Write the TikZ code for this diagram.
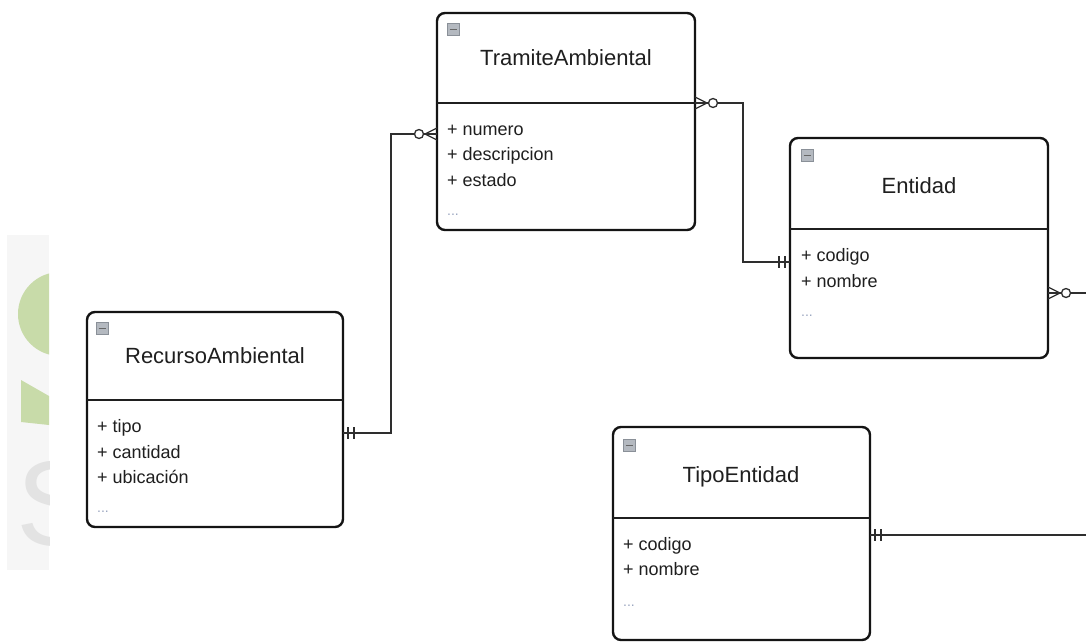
\documentclass[tikz,border=0pt]{standalone}
\usepackage{fontspec}
\setmainfont{Liberation Sans}
\usetikzlibrary{calc}
\definecolor{bgpanel}{HTML}{F6F6F6}
\definecolor{logogreen}{HTML}{C8DBA9}
\definecolor{logogray}{HTML}{E3E3E3}
\definecolor{connc}{HTML}{2E2E2E}
\definecolor{dotsc}{HTML}{9AA6C0}
\definecolor{iconfill}{HTML}{B4B9C0}
\definecolor{icondraw}{HTML}{8A9098}

\tikzset{
  entbox/.style={draw=black!92, line width=2.4pt, rounded corners=8pt, anchor=north west,
                 inner sep=0pt, outer sep=0pt, fill=white},
  divider/.style={line width=2.8pt, draw=black!88},
  etitle/.style={font=\fontsize{22}{26}\selectfont, text=black!88, anchor=base, inner sep=0pt},
  eattr/.style={font=\fontsize{18}{25.5}\selectfont, text=black!88, anchor=base west, inner sep=0pt},
  edots/.style={font=\fontsize{14}{16}\selectfont, text=dotsc, anchor=base west, inner sep=0pt},
  conn/.style={draw=connc, line width=1.3pt},
  minusicon/.style={draw=icondraw, fill=iconfill, line width=0.7pt, minimum width=12pt,
                    minimum height=12pt, inner sep=0pt, anchor=north west},
}

\newcommand{\crowzero}[2]{%
  \draw[conn] ($(#1)+(#2*12,0)$) -- ($(#1)+(0,-6)$)
              ($(#1)+(#2*12,0)$) -- (#1)
              ($(#1)+(#2*12,0)$) -- ($(#1)+(0,6)$);
  \draw[conn, fill=white] ($(#1)+(#2*18,0)$) circle[radius=4.5pt];
}
\newcommand{\mandone}[2]{%
  \draw[conn] ($(#1)+(#2*5,-6)$) -- ($(#1)+(#2*5,6)$)
              ($(#1)+(#2*11,-6)$) -- ($(#1)+(#2*11,6)$);
}
\newcommand{\minusmark}[1]{%
  \draw[line width=1.5pt, draw=black!60] ($(#1.west)+(2.5,0)$) -- ($(#1.east)+(-2.5,0)$);
}

\begin{document}
\begin{tikzpicture}[x=1pt, y=-1pt]
\useasboundingbox (0,0) rectangle (1086,642);
\fill[white] (0,0) rectangle (1086,642);

% background logo fragment
\fill[bgpanel] (7,235) rectangle (49,570);
\begin{scope}
  \clip (7,235) rectangle (49,570);
  \fill[logogreen] (60,314) circle[radius=42pt];
  \fill[logogreen] (21,380) -- (49,396) -- (49,425) -- (21,422) -- cycle;
  \node[anchor=base west, inner sep=0pt, text=logogray,
        font=\fontsize{121}{121}\selectfont] (logoS) at (16,545) {S};
\end{scope}

% ---- TramiteAmbiental
\node[entbox, minimum width=258pt, minimum height=217pt] (tram) at (437,13) {};
\draw[divider] (tram.west |- 0,103) -- (tram.east |- 0,103);
\node[minusicon] (tramicon) at (447,23) {};
\minusmark{tramicon}
\node[etitle] (tramtitle) at (566,66) {TramiteAmbiental};
\node[eattr] (tramA1) at (447,135) {+ numero};
\node[eattr] (tramA2) at (447,160) {+ descripcion};
\node[eattr] (tramA3) at (447,186) {+ estado};
\node[edots] (tramA4) at (447,215) {...};

% ---- Entidad
\node[entbox, minimum width=258pt, minimum height=220pt] (ent) at (790,138) {};
\draw[divider] (ent.west |- 0,229) -- (ent.east |- 0,229);
\node[minusicon] (enticon) at (801,149) {};
\minusmark{enticon}
\node[etitle] (enttitle) at (919,193) {Entidad};
\node[eattr] (entA1) at (801,261) {+ codigo};
\node[eattr] (entA2) at (801,287) {+ nombre};
\node[edots] (entA3) at (801,316) {...};

% ---- RecursoAmbiental
\node[entbox, minimum width=256pt, minimum height=215pt] (rec) at (87,312) {};
\draw[divider] (rec.west |- 0,400) -- (rec.east |- 0,400);
\node[minusicon] (recicon) at (96,322) {};
\minusmark{recicon}
\node[etitle] (rectitle) at (215,363) {RecursoAmbiental};
\node[eattr] (recA1) at (97,432) {+ tipo};
\node[eattr] (recA2) at (97,458) {+ cantidad};
\node[eattr] (recA3) at (97,483) {+ ubicación};
\node[edots] (recA4) at (97,512) {...};

% ---- TipoEntidad
\node[entbox, minimum width=257pt, minimum height=213pt] (tipo) at (613,427) {};
\draw[divider] (tipo.west |- 0,518) -- (tipo.east |- 0,518);
\node[minusicon] (tipoicon) at (623,439) {};
\minusmark{tipoicon}
\node[etitle] (tipotitle) at (741,482) {TipoEntidad};
\node[eattr] (tipoA1) at (623,550) {+ codigo};
\node[eattr] (tipoA2) at (623,575) {+ nombre};
\node[edots] (tipoA3) at (623,606) {...};

% ---- connectors
\coordinate (c1a) at (rec.east |- 0,433);
\coordinate (c1b) at (tram.west |- 0,134);
\draw[conn] (c1a) -- ++(48,0) |- (c1b);
\mandone{c1a}{1}
\crowzero{c1b}{-1}

\coordinate (c2a) at (tram.east |- 0,103);
\coordinate (c2b) at (ent.west |- 0,262);
\draw[conn] (c2a) -- ++(48,0) |- (c2b);
\crowzero{c2a}{1}
\mandone{c2b}{-1}

\coordinate (c3a) at (ent.east |- 0,293);
\coordinate (c3out) at (1086,293);
\draw[conn] (c3a) -- (c3out);
\crowzero{c3a}{1}

\coordinate (c4a) at (tipo.east |- 0,535);
\coordinate (c4out) at (1086,535);
\draw[conn] (c4a) -- (c4out);
\mandone{c4a}{1}
\end{tikzpicture}
\end{document}
